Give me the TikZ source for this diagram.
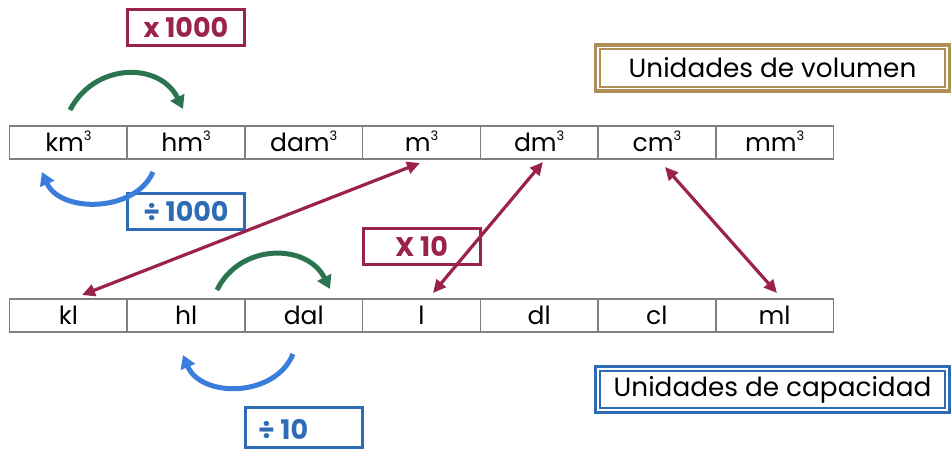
\documentclass[tikz,border=0pt]{standalone}
\usepackage{fontspec}
\setmainfont{Poppins}
\usetikzlibrary{arrows.meta}
\definecolor{maroon}{HTML}{9B2248}
\definecolor{boxblue}{HTML}{2E6DB5}
\definecolor{arcblue}{HTML}{3A7DDB}
\definecolor{arcgreen}{HTML}{2A7550}
\definecolor{tan}{HTML}{B08D57}
\definecolor{cellgray}{HTML}{808080}
\newcommand{\cubed}{\raisebox{0.42em}{\fontsize{13}{13}\selectfont 3}}
\tikzset{
  cell/.style={draw=cellgray, line width=1.6pt, minimum width=117.7pt, minimum height=33pt,
    inner sep=0pt, text height=18pt, text depth=0pt, font=\fontsize{25}{28}\selectfont},
  opbox/.style={draw=#1, line width=3pt, minimum width=117pt, minimum height=36pt, inner sep=0pt,
    text=#1, font=\fontsize{27}{30}\selectfont\bfseries},
  titlebox/.style={draw=#1, line width=3.3pt, minimum width=354pt, minimum height=46pt, inner sep=0pt,
    font=\fontsize{26.3}{30}\selectfont},
  greenarc/.style={draw=arcgreen, line width=5pt, -{Triangle[length=13pt,width=15pt]}},
  bluearc/.style={draw=arcblue, line width=5pt, -{Triangle[length=13pt,width=15pt]}},
  conv/.style={draw=maroon, line width=3.2pt, {Triangle[length=13pt,width=12pt]}-{Triangle[length=13pt,width=12pt]}}
}
\begin{document}
\begin{tikzpicture}[x=1pt,y=-1pt]
\useasboundingbox (0,0) rectangle (951,449);
% volume row
\node[cell] (v1) at (68.4,142.5) {km\cubed};
\node[cell] (v2) at (186.1,142.5) {hm\cubed};
\node[cell] (v3) at (303.8,142.5) {dam\cubed};
\node[cell] (v4) at (421.5,142.5) {m\cubed};
\node[cell] (v5) at (539.2,142.5) {dm\cubed};
\node[cell] (v6) at (656.9,142.5) {cm\cubed};
\node[cell] (v7) at (774.6,142.5) {mm\cubed};
% capacity row
\node[cell] (c1) at (68.4,315.5) {kl};
\node[cell] (c2) at (186.1,315.5) {hl};
\node[cell] (c3) at (303.8,315.5) {dal};
\node[cell] (c4) at (421.5,315.5) {l};
\node[cell] (c5) at (539.2,315.5) {dl};
\node[cell] (c6) at (656.9,315.5) {cl};
\node[cell] (c7) at (774.6,315.5) {ml};
% operation boxes
\node[opbox=maroon] (mul1000) at (186,27.5) {x 1000};
\node[opbox=boxblue] (div1000) at (186,211.5) {÷ 1000};
\node[opbox=maroon] (mul10) at (421.5,246.5) {X 10};
\node[opbox=boxblue, minimum height=40pt] (div10) at (304,427.5) {};
\node[anchor=west, text=boxblue, font=\fontsize{27}{30}\selectfont\bfseries, inner sep=0pt] (div10t) at ([xshift=14pt,yshift=-2pt]div10.west) {÷ 10};
% title boxes
\node[titlebox=tan] (vol) at (772.5,68) {Unidades de volumen};
\draw[tan, line width=2pt] ([shift={(6,6)}]vol.north west) rectangle ([shift={(-6,-6)}]vol.south east);
\node[titlebox=boxblue] (cap) at (772.5,389.5) {Unidades de capacidad};
\draw[boxblue, line width=2pt] ([shift={(6,6)}]cap.north west) rectangle ([shift={(-6,-6)}]cap.south east);
% arcs
\coordinate (g1s) at (70,110); \coordinate (g1e) at (183,109);
\draw[greenarc] (g1s) .. controls (95,62) and (160,62) .. (g1e);
\coordinate (b1s) at (153,172); \coordinate (b1e) at (42,172);
\draw[bluearc] (b1s) .. controls (135,213) and (60,213) .. (b1e);
\coordinate (g2s) at (217,290); \coordinate (g2e) at (330,289);
\draw[greenarc] (g2s) .. controls (240,243) and (307,243) .. (g2e);
\coordinate (b2s) at (293,354); \coordinate (b2e) at (183,355);
\draw[bluearc] (b2s) .. controls (275,398) and (201,398) .. (b2e);
% conversions
\coordinate (a1) at (420,163); \coordinate (a2) at (82,295);
\draw[conv] (a1) -- (a2);
\coordinate (a3) at (543,162); \coordinate (a4) at (433,293);
\draw[conv] (a3) -- (a4);
\coordinate (a5) at (665,167); \coordinate (a6) at (777,293);
\draw[conv] (a5) -- (a6);
\end{tikzpicture}
\end{document}
